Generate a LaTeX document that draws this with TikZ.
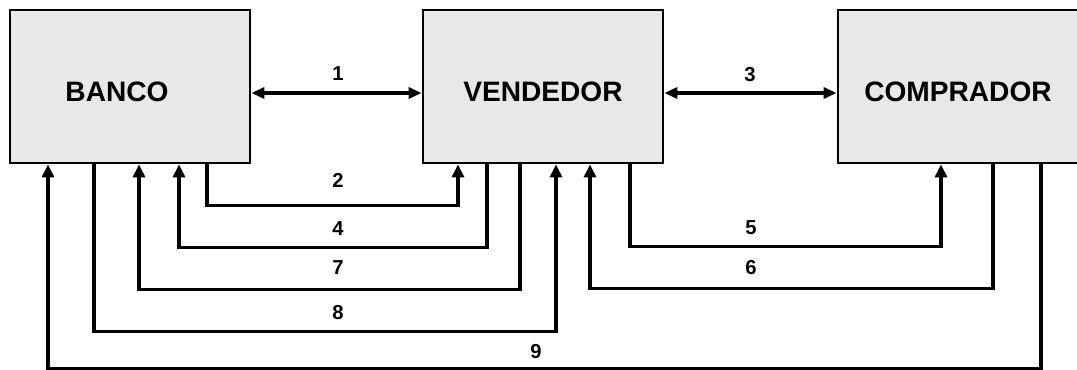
\documentclass[tikz,border=0pt]{standalone}
\usepackage{fontspec}
\setmainfont{Liberation Sans}
\usetikzlibrary{arrows.meta}
\definecolor{boxgray}{RGB}{232,232,235}
\tikzset{
  party/.style={draw, line width=1.6pt, fill=boxgray, minimum width=4.8cm,
    minimum height=3.06cm, inner sep=0pt, text height=0.6cm, text depth=0cm,
    font=\fontsize{16}{19}\selectfont\bfseries},
  flow/.style={line width=2.1pt, -{Triangle[length=0.26cm,width=0.24cm]}},
  both/.style={line width=2.1pt, {Triangle[length=0.26cm,width=0.22cm]}-{Triangle[length=0.26cm,width=0.22cm]}},
  num/.style={font=\fontsize{11.5}{13}\selectfont\bfseries, inner sep=1pt}
}
\begin{document}
\begin{tikzpicture}
\clip (0,0) rectangle (21.54,7.38);

\node[party] (banco) at (2.6,5.65) {\hspace*{-0.52cm}BANCO};
\node[party] (vendedor) at (10.86,5.65) {VENDEDOR};
\node[party, minimum width=4.9cm] (comprador) at (19.21,5.65) {\hspace*{-0.1cm}COMPRADOR};

% top double arrows
\draw[both] ([yshift=-0.13cm]banco.east) -- ([yshift=-0.13cm]vendedor.west);
\draw[both] ([yshift=-0.13cm]vendedor.east) -- ([yshift=-0.13cm]comprador.west);

% lines below the boxes
\draw[flow] ([xshift=1.54cm]banco.south) -- ++(0,-0.82) -| ([xshift=-1.70cm]vendedor.south);
\draw[flow] ([xshift=-1.12cm]vendedor.south) -- ++(0,-1.66) -| ([xshift=0.98cm]banco.south);
\draw[flow] ([xshift=-0.46cm]vendedor.south) -- ++(0,-2.50) -| ([xshift=0.18cm]banco.south);
\draw[flow] ([xshift=-0.72cm]banco.south) -- ++(0,-3.34) -| ([xshift=0.26cm]vendedor.south);
\draw[flow] ([xshift=1.61cm]comprador.south) -- ++(0,-4.08) -| ([xshift=-1.64cm]banco.south);
\draw[flow] ([xshift=1.74cm]vendedor.south) -- ++(0,-1.64) -| ([xshift=-0.39cm]comprador.south);
\draw[flow] ([xshift=0.65cm]comprador.south) -- ++(0,-2.48) -| ([xshift=0.94cm]vendedor.south);

\node[num] (n1) at (6.76,5.90) {1};
\node[num] (n3) at (15.0,5.88) {3};
\node[num] (n2) at (6.76,3.78) {2};
\node[num] (n4) at (6.76,2.80) {4};
\node[num] (n7) at (6.76,2.02) {7};
\node[num] (n8) at (6.76,1.12) {8};
\node[num] (n9) at (10.72,0.34) {9};
\node[num] (n5) at (15.02,2.82) {5};
\node[num] (n6) at (15.02,2.02) {6};
\end{tikzpicture}
\end{document}
